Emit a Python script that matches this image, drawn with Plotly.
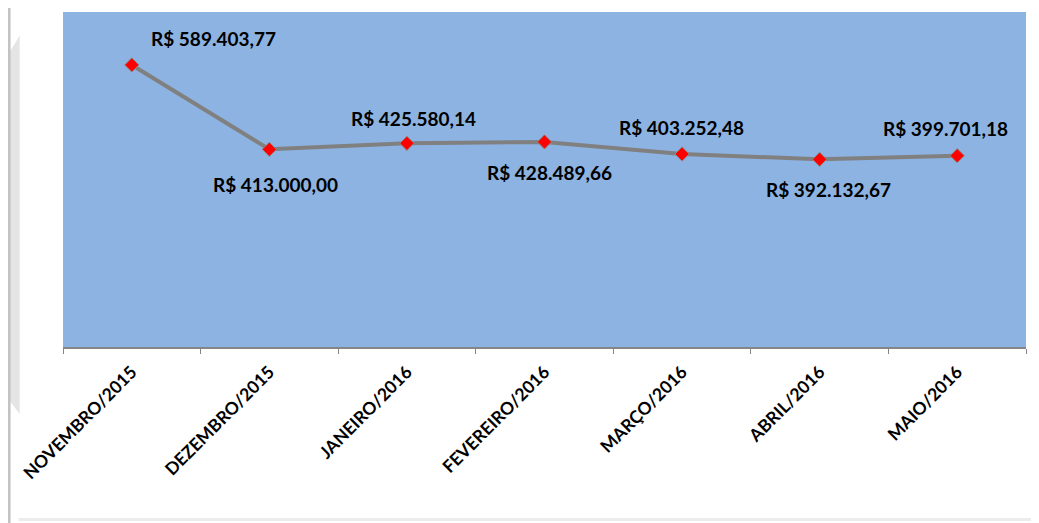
import plotly.graph_objects as go

months = ["NOVEMBRO/2015", "DEZEMBRO/2015", "JANEIRO/2016", "FEVEREIRO/2016",
          "MARÇO/2016", "ABRIL/2016", "MAIO/2016"]
values = [589403.77, 413000.00, 425580.14, 428489.66, 403252.48, 392132.67, 399701.18]
labels = ["R$ 589.403,77", "R$ 413.000,00", "R$ 425.580,14", "R$ 428.489,66",
          "R$ 403.252,48", "R$ 392.132,67", "R$ 399.701,18"]

# label offsets (pixels) relative to each point
offs = [(82, 26), (6, -35), (7, 25), (5, -31), (-1, 27), (9, -30), (-12, 27)]

fig = go.Figure()
fig.add_trace(go.Scatter(
    x=months, y=values, mode="lines+markers",
    line=dict(color="#808080", width=4),
    marker=dict(symbol="diamond", size=11, color="#ff0000",
                line=dict(color="#8c8c8c", width=1)),
    hoverinfo="skip", showlegend=False))

for m, v, t, (dx, dy) in zip(months, values, labels, offs):
    fig.add_annotation(x=m, y=v, text=t, showarrow=False, xshift=dx, yshift=dy,
                       font=dict(family="Lato", size=19, color="black", weight="bold"))

# left-side decoration
fig.add_shape(type="path", xref="paper", yref="paper",
              path="M -0.066 0.83 L -0.045 0.93 L -0.045 -0.2 L -0.066 -0.12 Z",
              fillcolor="#e6e4e4", line=dict(width=0), layer="below")
fig.add_shape(type="line", xref="paper", yref="paper",
              x0=-0.056, x1=-0.056, y0=1.05, y1=-0.54,
              line=dict(color="#c3c3c3", width=3))
fig.add_shape(type="line", xref="paper", yref="paper",
              x0=-0.046, x1=1.02, y0=-0.515, y1=-0.515,
              line=dict(color="#ececec", width=3))

fig.update_layout(
    width=1031, height=515,
    margin=dict(l=55, r=13, t=4, b=176),
    paper_bgcolor="white",
    plot_bgcolor="#8db3e2",
    xaxis=dict(type="category", tickangle=-45, showgrid=False,
               showline=True, linecolor="#868686", linewidth=2,
               ticks="outside", ticklen=5, tickcolor="#868686",
               tickson="boundaries", ticklabelstandoff=6,
               tickfont=dict(family="Lato", size=17.5, color="black", weight="bold"),
               range=[-0.5, 6.5]),
    yaxis=dict(range=[0, 700000], showgrid=False, showticklabels=False,
               zeroline=False, showline=False),
)

fig.write_html("out.html")
